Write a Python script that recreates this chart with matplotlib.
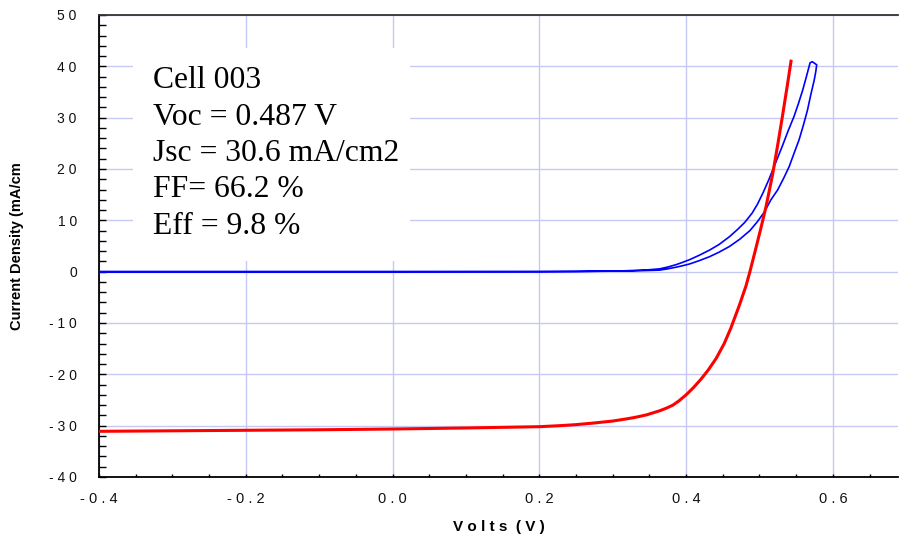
import matplotlib
matplotlib.use("Agg")
import matplotlib.pyplot as plt
from matplotlib.patches import Rectangle
from matplotlib.ticker import MultipleLocator, FixedLocator

# Illuminated J-V curve (red)
light_v = [-0.4, -0.3, -0.2, -0.1, 0.0, 0.1, 0.2, 0.228, 0.25, 0.273, 0.3,
           0.318, 0.33, 0.346, 0.355, 0.364, 0.373, 0.382, 0.39, 0.400,
           0.41, 0.42, 0.43, 0.441, 0.452, 0.461, 0.4725, 0.4816, 0.487,
           0.495, 0.502, 0.509, 0.518, 0.525, 0.531, 0.538, 0.543]
light_j = [-31.1, -31.0, -30.9, -30.8, -30.65, -30.45, -30.2, -30.0, -29.8,
           -29.5, -29.1, -28.7, -28.4, -27.9, -27.5, -27.1, -26.6, -26.0,
           -25.2, -24.0, -22.6, -21.0, -19.2, -16.9, -14.0, -11.0, -6.6,
           -2.8, 0.0, 4.5, 8.5, 12.7, 19.0, 24.8, 30.0, 36.3, 41.0]

# Dark J-V sweep (blue), out and back
dark_v = [-0.4, -0.2, 0.0, 0.2, 0.25, 0.3, 0.318, 0.34, 0.35, 0.364, 0.375,
          0.386, 0.395, 0.405, 0.418, 0.432, 0.445, 0.459, 0.47, 0.48, 0.49,
          0.4975, 0.505, 0.513, 0.522, 0.531, 0.539, 0.547, 0.553, 0.559,
          0.564, 0.569, 0.572, 0.578,
          0.5768, 0.5746, 0.570, 0.5655, 0.56, 0.554, 0.547, 0.5406, 0.533,
          0.5247, 0.5156, 0.5066, 0.497, 0.487, 0.473, 0.459, 0.445,
          0.4317, 0.418, 0.4048, 0.395, 0.386, 0.375, 0.364, 0.34, 0.318,
          0.25, 0.2, 0.0, -0.4]
dark_j = [0.0, 0.0, 0.0, 0.02, 0.05, 0.12, 0.18, 0.3, 0.38, 0.55, 0.9,
          1.35, 1.8, 2.35, 3.2, 4.2, 5.3, 6.8, 8.2, 9.6, 11.4,
          13.2, 15.4, 18.0, 21.2, 24.4, 27.4, 30.2, 32.7, 35.4,
          38.0, 40.7, 40.9, 40.3,
          39.0, 37.3, 34.5, 31.5, 28.6, 25.7, 23.0, 20.5, 18.2,
          15.9, 14.0, 11.6, 9.7, 8.0, 6.3, 4.9, 3.8,
          2.9, 2.15, 1.5, 1.15, 0.86, 0.55, 0.3, 0.2, 0.13,
          0.03, 0.0, 0.0, 0.0]

x_ticks = [-0.4, -0.2, 0.0, 0.2, 0.4, 0.6]
x_tick_labels = ["-0.4", "-0.2", "0.0", "0.2", "0.4", "0.6"]
y_ticks = [-40, -30, -20, -10, 0, 10, 20, 30, 40, 50]
y_tick_labels = ["-40", "-30", "-20", "-10", "0", "10", "20", "30", "40", "50"]

stats = ["Cell 003", "Voc = 0.487 V", "Jsc = 30.6 mA/cm2", "FF= 66.2 %",
         "Eff = 9.8 %"]

fig = plt.figure(figsize=(8.99, 5.37), dpi=100)
ax = fig.add_axes([99 / 899, 1 - 477 / 537, 799 / 899, 462 / 537])

ax.plot(dark_v, dark_j, color="#0000ff", lw=1.2, zorder=3)
ax.plot(light_v, light_j, color="#ff0000", lw=2.2, zorder=3)

ax.set_xlim(-0.4, 0.6888)
ax.set_ylim(-40, 50)

ax.xaxis.set_major_locator(FixedLocator(x_ticks))
ax.yaxis.set_major_locator(FixedLocator(y_ticks))
ax.xaxis.set_minor_locator(MultipleLocator(0.05))
ax.yaxis.set_minor_locator(MultipleLocator(2))
ax.set_xticklabels([" ".join(s) for s in x_tick_labels],
                   fontfamily="Liberation Sans", fontsize=10.5, color="#111111")
ax.set_yticklabels([" ".join(s) for s in y_tick_labels],
                   fontfamily="Liberation Sans", fontsize=10, color="#111111")

ax.tick_params(axis="both", which="both", direction="in", width=1.0,
               color="black")
ax.tick_params(axis="y", which="both", length=5, pad=16)
ax.tick_params(axis="x", which="both", length=2.5, pad=11)

ax.grid(True, which="major", color="#c8c8f5", lw=1.0)

for side in ["left", "bottom"]:
    ax.spines[side].set_linewidth(1.3)
    ax.spines[side].set_color("black")
ax.spines["top"].set_linewidth(1.3)
ax.spines["top"].set_color("#333333")
ax.spines["right"].set_visible(False)

ax.set_xlabel("V o l t s  ( V )", fontfamily="Liberation Sans",
              fontweight="bold", fontsize=11, labelpad=10)
ax.set_ylabel("Current Density (mA/cm", fontfamily="Liberation Sans",
              fontweight="bold", fontsize=10.5, labelpad=18)

# white box behind the cell stats
ax.add_patch(Rectangle((0.0426, 0.4675), 0.3465, 0.4611,
                       transform=ax.transAxes, facecolor="white",
                       edgecolor="none", zorder=2.5))
for i, line in enumerate(stats):
    ax.text(0.0672, 0.8413 - i * 0.0786, line, transform=ax.transAxes,
            fontfamily="Liberation Serif", fontsize=22.8, va="baseline",
            ha="left", color="black", zorder=4)

plt.savefig("out.png", dpi=100)
plt.close()
